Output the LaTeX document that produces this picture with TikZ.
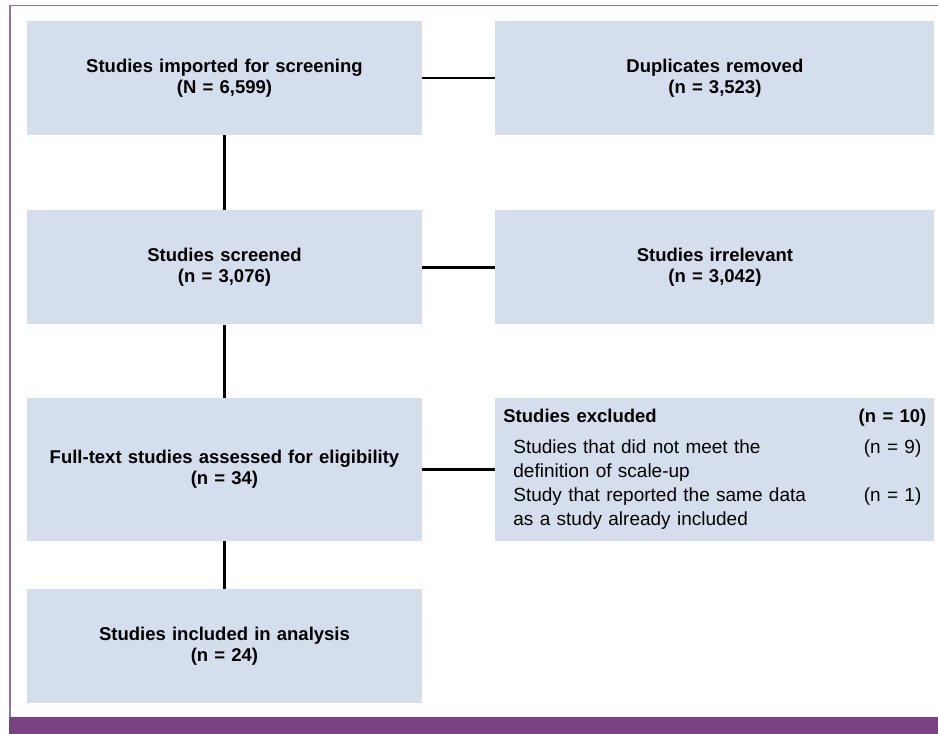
\documentclass[tikz,border=0pt]{standalone}
\usepackage{fontspec}
\setmainfont{Liberation Sans}
\usepackage{array}
\usepackage{tikz}
\usetikzlibrary{positioning}
\definecolor{boxfill}{HTML}{D5DEEC}
\definecolor{framepurple}{HTML}{9C6CA4}
\definecolor{barpurple}{HTML}{7B4282}
\tikzset{block/.style={fill=boxfill, minimum width=395pt, minimum height=114pt, text width=380pt, align=center, inner sep=0pt, font=\fontsize{18.5}{21.5}\selectfont\bfseries},
% the wide blocks sit in the right column
wideblock/.style={block, minimum width=439pt, text width=423pt},
% the connectors are plain thick lines, no arrow tips
line/.style={line width=2.5pt, black}
}
\begin{document}
\begin{tikzpicture}
    \useasboundingbox (0pt,0pt) rectangle (938pt,-734pt);
    \fill[barpurple] (9pt,-717pt) rectangle (938pt,-734pt);
    \draw[framepurple, line width=1.5pt] (10pt,-717pt) |- (938pt,-5.5pt);
    \node[block] (imported) at (224.5pt,-78pt) {Studies imported for screening\\(N = 6,599)};
    \node[wideblock,right=73pt of imported] (duplicates) {Duplicates removed\\(n = 3,523)};
    \node[block,below=75pt of imported] (screened) {Studies screened\\(n = 3,076)};
    \node[wideblock,right=73pt of screened] (irrelevant) {Studies irrelevant\\(n = 3,042)};
    \node[block,below=73pt of screened,minimum height=143pt] (fulltext) {Full-text studies assessed for eligibility\\(n = 34)};
    \node[wideblock,right=73pt of fulltext,minimum height=143pt,align=left,font=\fontsize{19}{24}\selectfont] (excluded) {%
      \begin{tabular}{@{\hspace{10pt}}p{340pt}@{}>{\raggedleft\arraybackslash}p{68pt}@{\hspace{5pt}}}
        \multicolumn{2}{@{}p{423pt}@{}}{\fontsize{18.5}{21.5}\selectfont\bfseries Studies excluded\hfill(n = 10)}\\[7pt]
        Studies that did not meet the\newline definition of scale-up & (n = 9)\\[3pt]
        Study that reported the same data\newline as a study already included & (n = 1)
      \end{tabular}};
    \node[block,below=48pt of fulltext] (included) {Studies included in analysis\\(n = 24)};
    \draw[line] (imported) -- (duplicates);
    \draw[line] (screened) -- (irrelevant);
    \draw[line] (fulltext) -- (excluded);
    \draw[line] (imported) -- (screened);
    \draw[line] (screened) -- (fulltext);
    \draw[line] (fulltext) -- (included);
  \end{tikzpicture}
\end{document}
